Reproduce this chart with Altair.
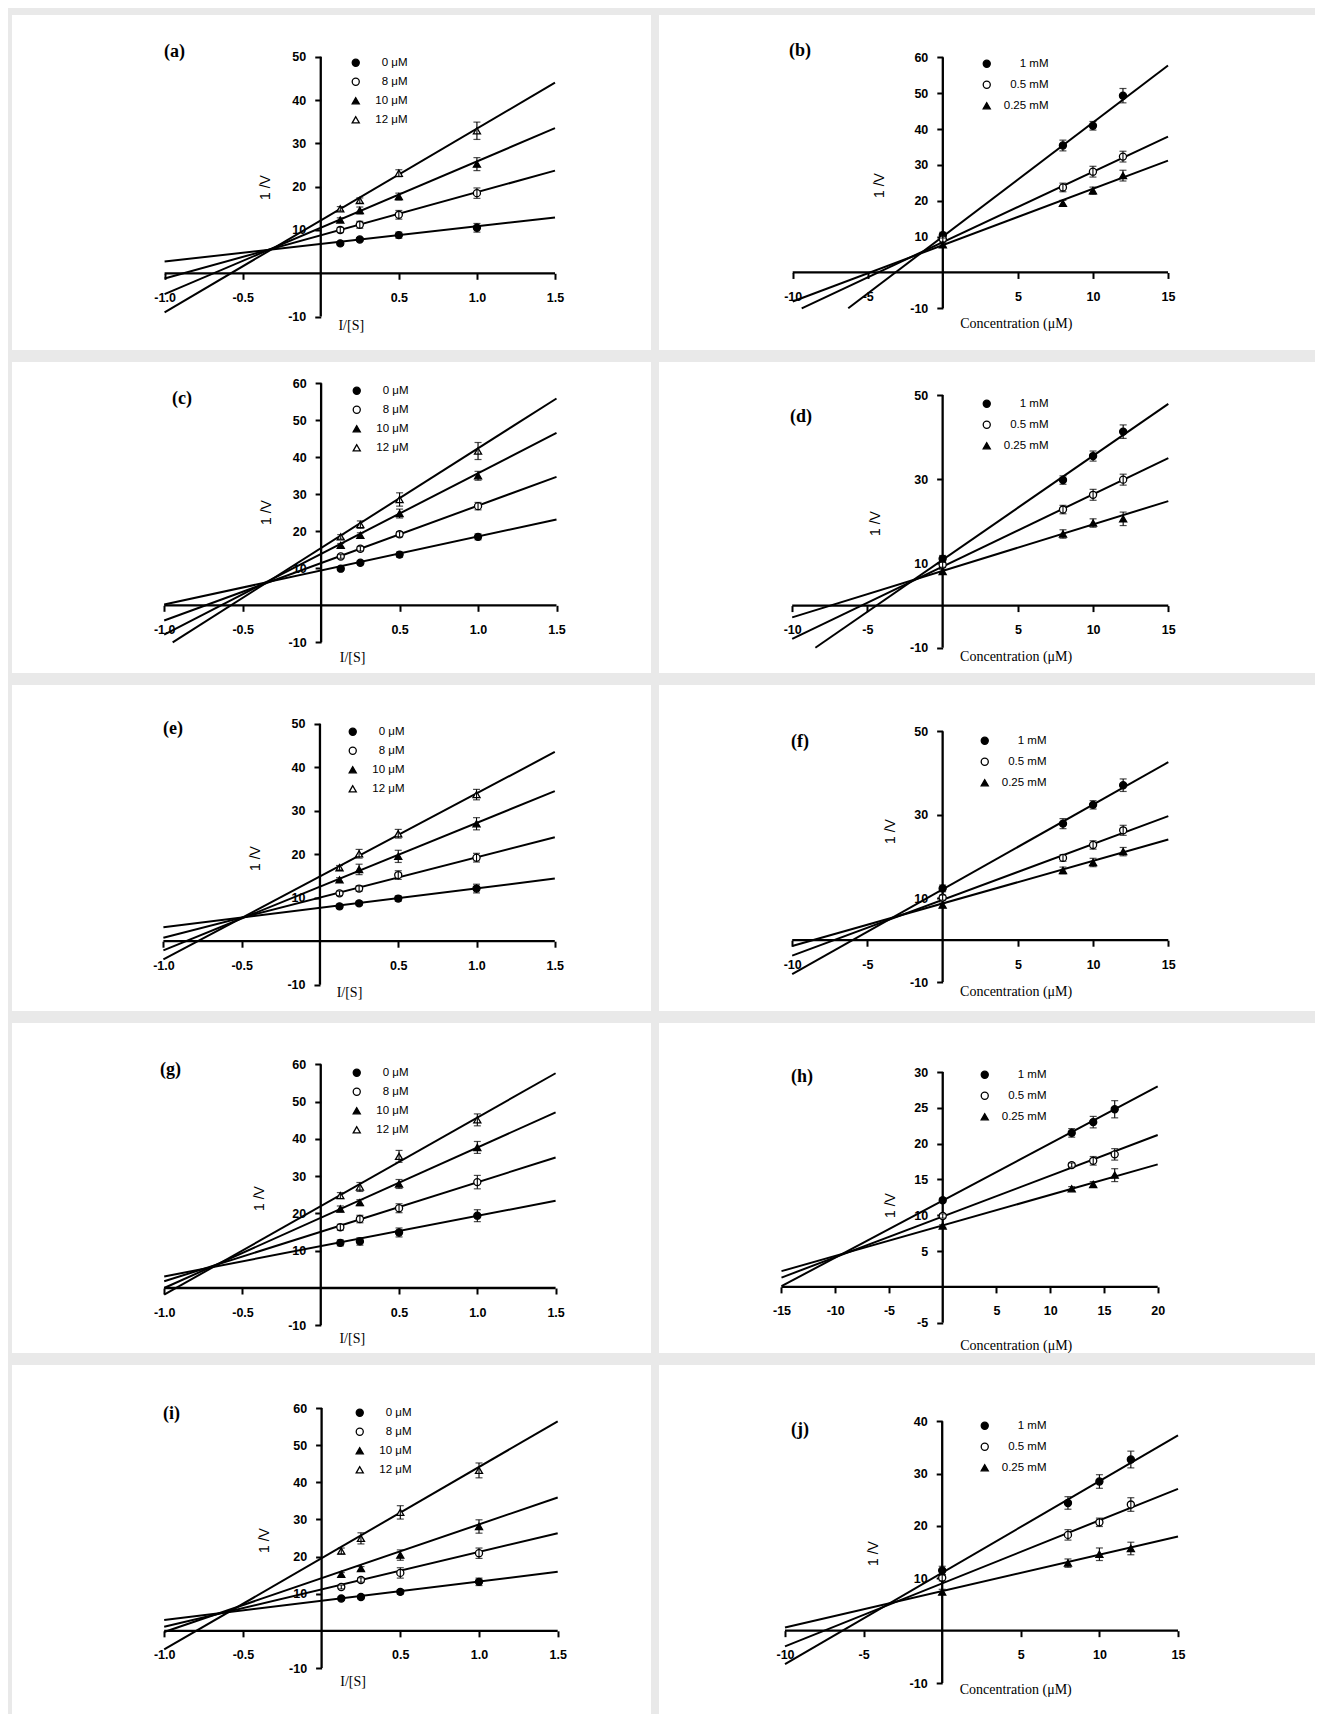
import altair as alt
import pandas as pd

# ---------------- values ----------------
LB_SERIES = ["0 μM", "8 μM", "10 μM", "12 μM"]
DX_SERIES = ["1 mM", "0.5 mM", "0.25 mM"]

LB_X = [0.125, 0.25, 0.5, 1.0]
DX_X = [0, 8, 10, 12]
H_X = [0, 12, 14, 16]

LB_XTICKS = [-1.0, -0.5, 0.5, 1.0, 1.5]
DX_XTICKS = [-10, -5, 5, 10, 15]
H_XTICKS = [-15, -10, -5, 5, 10, 15, 20]
Y60_TICKS = [-10, 10, 20, 30, 40, 50, 60]
Y50_TICKS = [-10, 10, 20, 30, 40, 50]
Y50B_TICKS = [-10, 10, 30, 50]
Y40_TICKS = [-10, 10, 20, 30, 40]
H_YTICKS = [-5, 5, 10, 15, 20, 25, 30]

# (a)
A_Y = [[6.9, 7.8, 8.8, 10.5], [10.0, 11.2, 13.5, 18.5], [12.3, 14.5, 17.7, 25.2], [14.9, 16.8, 23.1, 32.9]]
A_ERR = [[0.4, 0.4, 0.7, 1.0], [0.6, 0.8, 1.0, 1.2], [0.5, 0.8, 0.8, 1.5], [0.5, 0.6, 0.8, 2.0]]
A_LX0 = [-1.0, -1.0, -1.0, -1.0]
A_LY0 = [2.7, -1.2, -4.8, -9.0]
A_LX1 = [1.5, 1.5, 1.5, 1.5]
A_LY1 = [12.9, 23.7, 33.5, 44.0]
# (b)
B_Y = [[10.4, 35.4, 40.9, 49.3], [9.3, 23.7, 28.1, 32.3], [7.7, 19.3, 22.8, 27.0]]
B_ERR = [[0.8, 1.5, 1.2, 2.0], [0.8, 1.2, 1.5, 1.5], [0.5, 0.8, 1.0, 1.5]]
B_LX0 = [-6.3, -9.4, -10.0]
B_LY0 = [-10.0, -10.0, -8.1]
B_LX1 = [15, 15, 15]
B_LY1 = [57.7, 37.9, 31.2]
# (c)
C_Y = [[9.9, 11.5, 13.7, 18.5], [13.2, 15.3, 19.2, 26.8], [16.2, 18.9, 24.8, 35.0], [18.5, 21.8, 28.6, 41.7]]
C_ERR = [[0.5, 0.5, 0.7, 0.8], [0.5, 0.6, 0.7, 1.0], [0.5, 0.7, 1.2, 1.2], [0.6, 1.0, 1.8, 2.3]]
C_LX0 = [-1.0, -1.0, -1.0, -0.946]
C_LY0 = [0.2, -4.1, -7.9, -10.0]
C_LX1 = [1.5, 1.5, 1.5, 1.5]
C_LY1 = [23.2, 34.7, 46.6, 55.9]
# (d)
D_Y = [[11.1, 29.8, 35.5, 41.3], [9.7, 22.8, 26.3, 29.9], [8.1, 17.0, 19.6, 20.6]]
D_ERR = [[0.8, 1.0, 1.2, 1.6], [0.6, 1.0, 1.3, 1.3], [0.5, 1.0, 1.0, 1.6]]
D_LX0 = [-8.46, -10.0, -10.0]
D_LY0 = [-10.0, -7.9, -2.8]
D_LX1 = [15, 15, 15]
D_LY1 = [47.9, 35.0, 24.8]
# (e)
E_Y = [[8.0, 8.7, 9.8, 12.1], [11.0, 12.1, 15.2, 19.2], [14.1, 16.5, 19.5, 27.0], [16.9, 20.1, 24.7, 33.7]]
E_ERR = [[0.5, 0.5, 0.6, 1.0], [0.5, 0.6, 1.0, 1.0], [0.5, 1.2, 1.4, 1.4], [0.5, 1.0, 1.0, 1.2]]
E_LX0 = [-1.0, -1.0, -1.0, -1.0]
E_LY0 = [3.2, 0.8, -2.1, -4.2]
E_LX1 = [1.5, 1.5, 1.5, 1.5]
E_LY1 = [14.4, 23.9, 34.5, 43.5]
# (f)
F_Y = [[12.4, 27.9, 32.4, 37.1], [10.2, 19.7, 22.8, 26.3], [8.4, 16.7, 18.6, 21.2]]
F_ERR = [[0.8, 1.2, 1.0, 1.5], [0.6, 0.8, 1.0, 1.2], [0.5, 0.8, 1.0, 1.0]]
F_LX0 = [-10.0, -10.0, -10.0]
F_LY0 = [-8.1, -3.7, -1.4]
F_LX1 = [15, 15, 15]
F_LY1 = [42.6, 29.7, 24.1]
# (g)
G_Y = [[12.1, 12.5, 14.9, 19.4], [16.3, 18.5, 21.4, 28.4], [21.2, 22.9, 27.9, 37.7], [24.8, 27.1, 35.3, 45.1]]
G_ERR = [[0.8, 1.0, 1.2, 1.6], [0.8, 1.0, 1.2, 1.8], [0.8, 0.8, 1.2, 1.6], [0.8, 1.2, 1.6, 1.6]]
G_LX0 = [-1.0, -1.0, -1.0, -1.0]
G_LY0 = [3.1, 1.8, 0.0, -1.8]
G_LX1 = [1.5, 1.5, 1.5, 1.5]
G_LY1 = [23.4, 35.0, 47.1, 57.6]
# (h)
H_Y = [[12.1, 21.5, 23.0, 24.8], [9.9, 17.0, 17.6, 18.5], [8.5, 13.7, 14.3, 15.6]]
H_ERR = [[0.3, 0.6, 0.8, 1.2], [0.3, 0.3, 0.6, 0.8], [0.2, 0.3, 0.4, 0.9]]
H_LX0 = [-15, -15, -15]
H_LY0 = [0.1, 1.3, 2.2]
H_LX1 = [20, 20, 20]
H_LY1 = [28.0, 21.2, 17.1]
# (i)
I_Y = [[8.7, 9.1, 10.5, 13.2], [11.8, 13.7, 15.6, 20.9], [15.2, 16.8, 20.4, 28.1], [21.5, 24.9, 31.9, 43.2]]
I_ERR = [[0.5, 0.5, 0.6, 1.0], [0.5, 0.6, 1.4, 1.4], [0.5, 0.5, 1.4, 1.8], [0.8, 1.5, 1.8, 2.0]]
I_LX0 = [-1.0, -1.0, -1.0, -1.0]
I_LY0 = [2.9, 1.1, -0.3, -5.0]
I_LX1 = [1.5, 1.5, 1.5, 1.5]
I_LY1 = [15.9, 26.3, 35.9, 56.4]
# (j)
J_Y = [[11.5, 24.4, 28.5, 32.7], [10.1, 18.3, 20.7, 24.1], [7.4, 12.9, 14.6, 15.7]]
J_ERR = [[0.8, 1.2, 1.3, 1.6], [0.6, 1.0, 0.8, 1.3], [0.5, 0.8, 1.2, 1.2]]
J_LX0 = [-10.0, -10.0, -10.0]
J_LY0 = [-6.4, -3.0, 0.6]
J_LX1 = [15, 15, 15]
J_LY1 = [37.3, 27.1, 18.0]

# ---------------- styling / layout (pixels inside each white panel) ----------------
LB_STYLE = dict(shapes=["circle", "circle", "triangle-up", "triangle-up"],
                fills=["black", "white", "black", "white"],
                strokes=["black", "black", "black", "black"],
                xtitle="I/[S]", xfmt=".1f", labelOffset=46, rowPadding=6)
DX_STYLE = dict(shapes=["circle", "circle", "triangle-up"],
                fills=["black", "white", "black"],
                strokes=["black", "black", "black"],
                xtitle="Concentration (μM)", xfmt="d", labelOffset=56, rowPadding=8)

LAY = {
    "a": dict(W=639, H=335, px0=152.6, px1=543, pyt=41.7, pyb=301.6, ytx=-55, yty=172, xtx=30, xty=52, lx=152, ly=55, legx=342, legy=49),
    "b": dict(W=656, H=335, px0=133.7, px1=509, pyt=42.3, pyb=293.3, ytx=-63, yty=170, xtx=73, xty=51, lx=130, ly=54, legx=326, legy=50),
    "c": dict(W=639, H=311, px0=152.2, px1=544.5, pyt=21.3, pyb=280.3, ytx=-55, yty=150, xtx=31, xty=52, lx=160, ly=55, legx=343, legy=30),
    "d": dict(W=656, H=311, px0=133.2, px1=509.3, pyt=33, pyb=285.7, ytx=-67, yty=161, xtx=73, xty=51, lx=131, ly=73, legx=326, legy=43),
    "e": dict(W=639, H=326, px0=151.4, px1=542.8, pyt=38.7, pyb=299.7, ytx=-64, yty=173, xtx=29, xty=51, lx=151, ly=62, legx=339, legy=48),
    "f": dict(W=656, H=326, px0=133.2, px1=509.3, pyt=46.3, pyb=297, ytx=-52, yty=146, xtx=73, xty=51, lx=132, ly=75, legx=324, legy=57),
    "g": dict(W=639, H=330, px0=152.2, px1=543.6, pyt=41.3, pyb=302.3, ytx=-61, yty=175, xtx=31, xty=50, lx=148, ly=65, legx=343, legy=51),
    "h": dict(W=656, H=330, px0=122.5, px1=498.7, pyt=49, pyb=299.7, ytx=-52, yty=182, xtx=73, xty=59, lx=132, ly=72, legx=324, legy=53),
    "i": dict(W=639, H=349, px0=152.2, px1=545.7, pyt=43, pyb=303, ytx=-57, yty=175, xtx=31, xty=51, lx=151, ly=67, legx=346, legy=49),
    "j": dict(W=656, H=349, px0=126, px1=519, pyt=56.3, pyb=318, ytx=-69, yty=188, xtx=73, xty=59, lx=132, ly=83, legx=324, legy=62),
}


def panel(key, kind, xs, ys, errs, lx0, ly0, lx1, ly1, xext, yext, xticks, yticks):
    lay = LAY[key]
    st = LB_STYLE if kind == "lb" else DX_STYLE
    series = LB_SERIES if kind == "lb" else DX_SERIES
    W, H = lay["W"], lay["H"]
    ppx = (lay["px1"] - lay["px0"]) / (xext[1] - xext[0])
    ppy = (lay["pyb"] - lay["pyt"]) / (yext[1] - yext[0])
    xdom = [xext[0] - lay["px0"] / ppx, xext[1] + (W - lay["px1"]) / ppx]
    ydom = [yext[0] - (H - lay["pyb"]) / ppy, yext[1] + lay["pyt"] / ppy]
    x0px = lay["px0"] - xext[0] * ppx
    y0px = lay["pyt"] + yext[1] * ppy

    pts = []
    for si, s in enumerate(series):
        for xi, xv in enumerate(xs):
            v, e = ys[si][xi], errs[si][xi]
            pts.append({"series": s, "x": xv, "y": v, "lo": v - e, "hi": v + e})
    pdf = pd.DataFrame(pts)
    lines = []
    for si, s in enumerate(series):
        lines.append({"series": s, "x": lx0[si], "y": ly0[si]})
        lines.append({"series": s, "x": lx1[si], "y": ly1[si]})
    ldf = pd.DataFrame(lines)
    adf = pd.DataFrame([
        {"x": xext[0], "x2": xext[1], "y": 0, "y2": 0},
        {"x": 0, "x2": 0, "y": yext[0], "y2": yext[1]},
    ])

    xscale = alt.Scale(domain=xdom, nice=False, zero=False)
    yscale = alt.Scale(domain=ydom, nice=False, zero=False)
    xaxis = alt.Axis(values=xticks, format=st["xfmt"], offset=-(H - y0px),
                     title=st["xtitle"], titleX=x0px + lay["xtx"], titleY=lay["xty"],
                     titleAlign="center", titleBaseline="middle")
    yaxis = alt.Axis(values=yticks, format="d", offset=-x0px,
                     title="1 /V", titleX=lay["ytx"], titleY=lay["yty"], titleAngle=270,
                     titleAlign="center", titleBaseline="middle")
    X = alt.X("x:Q", scale=xscale, axis=xaxis)

    def Y(field):
        return alt.Y(field, scale=yscale, axis=yaxis)

    legend = alt.Legend(orient="none", legendX=lay["legx"] - 4, legendY=lay["legy"] - 7,
                        direction="vertical", title=None, padding=0,
                        symbolSize=50, symbolStrokeColor="black", symbolStrokeWidth=1.3,
                        labelFont="Liberation Sans", labelFontSize=11.5, labelColor="black",
                        labelAlign="right", labelOffset=st["labelOffset"],
                        rowPadding=st["rowPadding"])

    reg = alt.Chart(ldf).mark_line(color="black", strokeWidth=2).encode(
        X, Y("y:Q"), detail="series:N")
    axes = alt.Chart(adf).mark_rule(color="black", strokeWidth=2.3).encode(
        X, Y("y:Q"), x2="x2:Q", y2="y2:Q")
    points = alt.Chart(pdf).mark_point(filled=True, size=50, opacity=1,
                                       strokeWidth=1.3).encode(
        X, Y("y:Q"),
        shape=alt.Shape("series:N", scale=alt.Scale(domain=series, range=st["shapes"]), legend=legend),
        fill=alt.Fill("series:N", scale=alt.Scale(domain=series, range=st["fills"]), legend=legend),
        stroke=alt.Stroke("series:N", scale=alt.Scale(domain=series, range=st["strokes"]), legend=legend),
    )
    bars = alt.Chart(pdf).mark_rule(color="black", strokeWidth=1.1).encode(
        X, Y("lo:Q"), y2="hi:Q")
    caps = alt.Chart(pdf).transform_fold(["lo", "hi"], as_=["end", "v"]).mark_tick(
        orient="horizontal", size=7, thickness=1.2, color="black").encode(X, Y("v:Q"))

    title = alt.TitleParams(text="(" + key + ")", anchor="start", frame="group", orient="top",
                            offset=0, dx=lay["lx"], dy=lay["ly"], baseline="middle",
                            font="Liberation Serif", fontSize=18, fontWeight="bold", color="black")
    return alt.layer(reg, axes, points, bars, caps).properties(width=W, height=H, title=title)


pa = panel("a", "lb", LB_X, A_Y, A_ERR, A_LX0, A_LY0, A_LX1, A_LY1, (-1.0, 1.5), (-10, 50), LB_XTICKS, Y50_TICKS)
pb = panel("b", "dx", DX_X, B_Y, B_ERR, B_LX0, B_LY0, B_LX1, B_LY1, (-10, 15), (-10, 60), DX_XTICKS, Y60_TICKS)
pc = panel("c", "lb", LB_X, C_Y, C_ERR, C_LX0, C_LY0, C_LX1, C_LY1, (-1.0, 1.5), (-10, 60), LB_XTICKS, Y60_TICKS)
pd_ = panel("d", "dx", DX_X, D_Y, D_ERR, D_LX0, D_LY0, D_LX1, D_LY1, (-10, 15), (-10, 50), DX_XTICKS, Y50B_TICKS)
pe = panel("e", "lb", LB_X, E_Y, E_ERR, E_LX0, E_LY0, E_LX1, E_LY1, (-1.0, 1.5), (-10, 50), LB_XTICKS, Y50_TICKS)
pf = panel("f", "dx", DX_X, F_Y, F_ERR, F_LX0, F_LY0, F_LX1, F_LY1, (-10, 15), (-10, 50), DX_XTICKS, Y50B_TICKS)
pg = panel("g", "lb", LB_X, G_Y, G_ERR, G_LX0, G_LY0, G_LX1, G_LY1, (-1.0, 1.5), (-10, 60), LB_XTICKS, Y60_TICKS)
ph = panel("h", "dx", H_X, H_Y, H_ERR, H_LX0, H_LY0, H_LX1, H_LY1, (-15, 20), (-5, 30), H_XTICKS, H_YTICKS)
pi = panel("i", "lb", LB_X, I_Y, I_ERR, I_LX0, I_LY0, I_LX1, I_LY1, (-1.0, 1.5), (-10, 60), LB_XTICKS, Y60_TICKS)
pj = panel("j", "dx", DX_X, J_Y, J_ERR, J_LX0, J_LY0, J_LX1, J_LY1, (-10, 15), (-10, 40), DX_XTICKS, Y40_TICKS)


def row(left, right):
    return alt.hconcat(left, right, spacing=8).resolve_scale(
        x="independent", y="independent", shape="independent", fill="independent",
        stroke="independent"
    ).resolve_legend(shape="independent", fill="independent", stroke="independent")


chart = alt.vconcat(row(pa, pb), row(pc, pd_), row(pe, pf), row(pg, ph), row(pi, pj),
                    spacing=12).resolve_scale(
    x="independent", y="independent", shape="independent", fill="independent",
    stroke="independent"
).resolve_legend(shape="independent", fill="independent", stroke="independent").properties(
    background="#e9e9e9",
    padding={"left": 4, "top": 7, "right": 0, "bottom": 0},
).configure(
    locale=alt.Locale(number=alt.NumberLocale(decimal=".", thousands=",", grouping=[3],
                                              currency=["$", ""], minus="-"))
).configure_view(
    stroke=None, fill="white"
).configure_axis(
    domain=False, grid=False, ticks=True, tickColor="black", tickWidth=2, tickSize=6,
    labelFont="Liberation Sans", labelFontWeight="bold", labelFontSize=12.5, labelColor="black",
    labelFlush=False, labelOverlap=False, titleColor="black", titleFontWeight="normal",
).configure_axisX(
    labelPadding=12, titleFont="Liberation Serif", titleFontSize=14,
).configure_axisY(
    labelPadding=9, titleFont="Liberation Sans", titleFontSize=14,
)

chart.save("out.html", embed_options={"renderer": "svg", "actions": False})
